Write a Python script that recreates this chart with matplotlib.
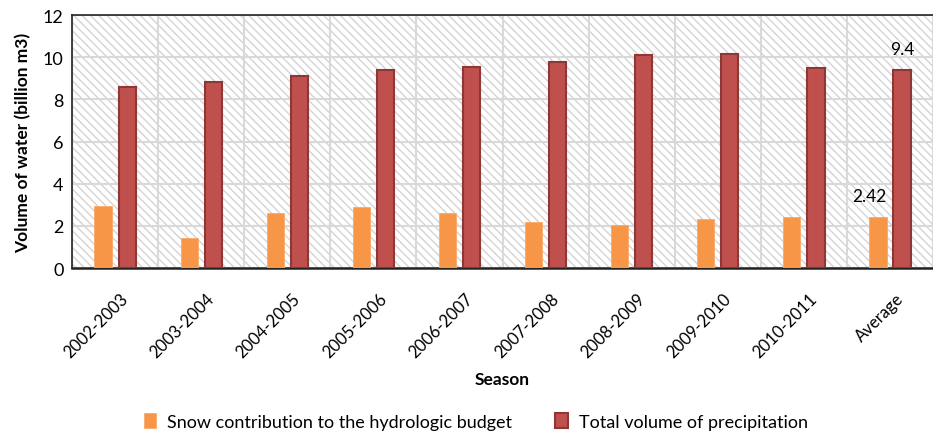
import numpy as np
import matplotlib.pyplot as plt
import matplotlib.transforms as mtransforms
from matplotlib.patches import Rectangle

plt.rcParams['font.family'] = ['Lato', 'DejaVu Sans']

# data
seasons = ['2002-2003', '2003-2004', '2004-2005', '2005-2006', '2006-2007',
           '2007-2008', '2008-2009', '2009-2010', '2010-2011', 'Average']
snow = [2.95, 1.42, 2.59, 2.9, 2.63, 2.2, 2.04, 2.31, 2.4, 2.42]
total = [8.6, 8.81, 9.12, 9.37, 9.55, 9.75, 10.12, 10.17, 9.5, 9.4]

fig = plt.figure(figsize=(9.33, 4.35), dpi=100)
ax = fig.add_axes([0.0772, 0.3816, 0.9228, 0.5816])

x = np.arange(len(seasons))
w = 0.2
off = 0.14

# hatched background
bg = Rectangle((0, 0), 1, 1, transform=ax.transAxes, facecolor='white',
               edgecolor='#d4d4d4', hatch='\\\\\\\\', linewidth=0, zorder=0)
ax.add_patch(bg)

ax.bar(x - off, snow, w, color='#f79646', edgecolor='#f9a96a', linewidth=0.6,
       label='Snow contribution to the hydrologic budget', zorder=3)
ax.bar(x + off, total, w, color='#c0504d', edgecolor='#8c3836', linewidth=1.5,
       label='Total volume of precipitation', zorder=3)

# labels on the average
ax.annotate('2.42', (x[-1] - off, snow[-1]), xytext=(-6, 9), textcoords='offset points',
            ha='center', va='bottom', fontsize=12.5)
ax.annotate('9.4', (x[-1] + off, total[-1]), xytext=(0, 9), textcoords='offset points',
            ha='center', va='bottom', fontsize=12.5)

ax.set_ylim(0, 12)
ax.set_yticks(range(0, 13, 2))
ax.set_xlim(-0.5, -0.5 + 861 / 87.2)
ax.set_xticks(x)
ax.set_xticklabels(seasons, rotation=45, ha='right', rotation_mode='anchor', fontsize=12)
ax.set_xticks(np.arange(-0.5, 10, 1), minor=True)
ax.tick_params(axis='x', which='both', length=0, pad=16)
ax.tick_params(axis='y', length=0, labelsize=13, pad=6)

# nudge the rotated labels a little to the right
shift = mtransforms.ScaledTranslation(5 / 100, 0, fig.dpi_scale_trans)
for lab in ax.get_xticklabels():
    lab.set_transform(lab.get_transform() + shift)

ax.grid(True, which='minor', axis='x', color='#d9d9d9', linewidth=1.5, zorder=1)
ax.grid(True, which='major', axis='y', color='#d9d9d9', linewidth=1.5, zorder=1)
ax.set_axisbelow(True)

for s in ['left', 'top']:
    ax.spines[s].set_color('#222222')
    ax.spines[s].set_linewidth(1.2)
ax.spines['bottom'].set_color('#222222')
ax.spines['bottom'].set_linewidth(1.8)
ax.spines['right'].set_visible(False)

ax.set_ylabel('Volume of water (billion m3)', fontsize=12.5, fontweight='bold', labelpad=8)
ax.set_xlabel('Season', fontsize=12.5, fontweight='bold', labelpad=8)

fig.legend(loc='center', bbox_to_anchor=(0.51, 0.028), ncol=2, frameon=False,
           fontsize=13, handlelength=0.7, handleheight=0.9, columnspacing=2.4,
           handletextpad=0.6)

fig.savefig('out.png', dpi=100)
